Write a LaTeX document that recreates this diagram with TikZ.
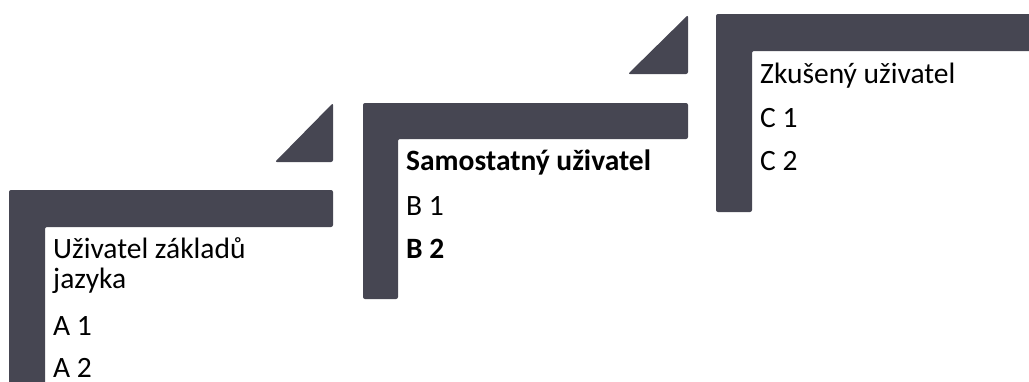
\documentclass[tikz,border=0pt]{standalone}
\usepackage{fontspec}
\setmainfont{Carlito}
\definecolor{stepgray}{RGB}{70,70,82}
\begin{document}
\begin{tikzpicture}[x=1pt,y=-1pt,
  lshape/.style={fill=stepgray,rounded corners=2pt},
  tri/.style={fill=stepgray,rounded corners=2pt},
  lbl/.style={anchor=base west,inner sep=0pt,font=\fontsize{29.5}{34}\selectfont,text=black}]
\useasboundingbox (0,0) rectangle (1029,381);
\begin{scope}
\clip (0,0) rectangle (1029,381);
% Step A
\fill[lshape] (9,190) -- (333,190) -- (333,227) -- (45,227) -- (45,400) -- (9,400) -- cycle;
\fill[tri] (333,103) -- (333,162) -- (275,162) -- cycle;
% Step B
\fill[lshape] (363,103) -- (688,103) -- (688,139) -- (398,139) -- (398,299) -- (363,299) -- cycle;
\fill[tri] (688,15) -- (688,74) -- (628,74) -- cycle;
% Step C
\fill[lshape] (716,14) -- (1040,14) -- (1040,51) -- (752,51) -- (752,212) -- (716,212) -- cycle;
\end{scope}
% Texts
\node[lbl] (a0) at (53,258) {Uživatel základů};
\node[lbl] (a0b) at (53,288) {jazyka};
\node[lbl] (a1) at (53,335) {A 1};
\node[lbl] (a2) at (53,377) {A 2};
\node[lbl,font=\fontsize{29.5}{34}\selectfont\bfseries] (b0) at (406,170) {Samostatný uživatel};
\node[lbl] (b1) at (406,215) {B 1};
\node[lbl,font=\fontsize{29.5}{34}\selectfont\bfseries] (b2) at (406,258) {B 2};
\node[lbl] (c0) at (760,83) {Zkušený uživatel};
\node[lbl] (c1) at (760,127) {C 1};
\node[lbl] (c2) at (760,170) {C 2};
\end{tikzpicture}
\end{document}
